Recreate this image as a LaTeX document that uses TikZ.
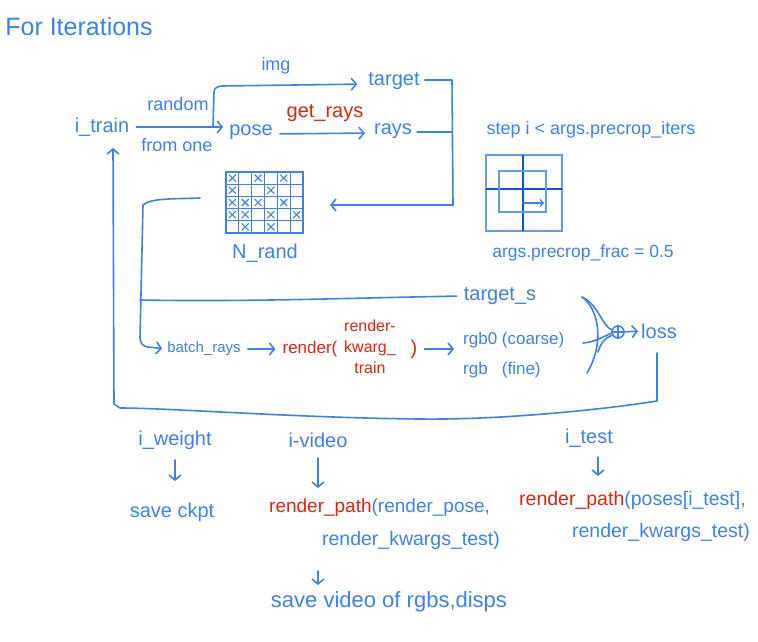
\documentclass[tikz,border=0pt]{standalone}
\usepackage{fontspec}
\setmainfont{Liberation Sans}
\usetikzlibrary{arrows.meta}
\definecolor{hb}{HTML}{3B82EE}
\definecolor{hr}{HTML}{E0240A}
\definecolor{hd}{HTML}{0A52D6}
\tikzset{
 txt/.style={text=hb, font=\fontsize{20}{22}\selectfont, inner sep=1pt},
 rtxt/.style={txt, text=hr},
 ln/.style={draw=hb, line width=1.6pt, line cap=round, line join=round},
 arr/.style={ln, -{Straight Barb[length=5pt,width=12pt]}},
}
\begin{document}
\begin{tikzpicture}[x=1pt,y=-1pt]
\useasboundingbox (0,0) rectangle (758,642);
% texts
\node[txt, font=\fontsize{25}{27}\selectfont] (title) at (79,27) {For Iterations};
\node[txt] (itrain) at (102,127) {i\_train};
\node[txt, font=\fontsize{18}{20}\selectfont] (random) at (178,104) {random};
\node[txt, font=\fontsize{18}{20}\selectfont] (fromone) at (177,145) {from one};
\node[txt] (pose) at (251,132) {pose};
\node[txt, font=\fontsize{18}{20}\selectfont] (img) at (276,66) {img};
\node[txt] (target) at (394,81) {target};
\node[rtxt] (getrays) at (325,113) {get\_rays};
\node[txt] (rays) at (393,131) {rays};
\node[txt] (nrand) at (265,253) {N\_rand};
\node[txt, font=\fontsize{18}{20}\selectfont] (step) at (591,130) {step i < args.precrop\_iters};
\node[txt, font=\fontsize{17.5}{19}\selectfont] (frac) at (583,253) {args.precrop\_frac = 0.5};
\node[txt] (targets) at (500,296) {target\_s};
\node[txt, font=\fontsize{15}{17}\selectfont] (batch) at (204,349) {batch\_rays};
\node[rtxt, font=\fontsize{17}{19}\selectfont] (rendA) at (310,349) {render(};
\node[rtxt, align=center, font=\fontsize{16}{21}\selectfont] (rendB) at (370,347) {render-\\kwarg\_\\train};
\node[rtxt] (rendC) at (414,349) {)};
\node[txt, font=\fontsize{17}{19}\selectfont, anchor=west] (rgb0) at (462,340) {rgb0 (coarse)};
\node[txt, font=\fontsize{17}{19}\selectfont, anchor=west] (rgb) at (462,370) {rgb~~ (fine)};
\node[txt] (loss) at (659,331) {loss};
\node[txt] (iweight) at (175,440) {i\_weight};
\node[txt] (saveckpt) at (172,512) {save ckpt};
\node[txt] (ivideo) at (318,440) {i-video};
\node[txt, anchor=west, font=\fontsize{19}{21}\selectfont] (rp1) at (268,508) {\textcolor{hr}{render\_path}(render\_pose,};
\node[txt, font=\fontsize{19.5}{21}\selectfont] (kw1) at (411,540) {render\_kwargs\_test)};
\node[txt, font=\fontsize{22}{24}\selectfont] (savevid) at (389,602) {save video of rgbs,disps};
\node[txt] (itest) at (589,438) {i\_test};
\node[txt, anchor=west, font=\fontsize{19.5}{21}\selectfont] (rp2) at (518,500) {\textcolor{hr}{render\_path}(poses[i\_test],};
\node[txt, font=\fontsize{19.5}{21}\selectfont] (kw2) at (661,532) {render\_kwargs\_test)};
% coordinates
\coordinate (br) at (213,127);
\coordinate (gridE) at (330,205);
\coordinate (gridW) at (200,198);
\coordinate (brk) at (452,80);
\coordinate (lossdn) at (657,353);
% top connectors
\draw[arr, shorten <=6pt, shorten >=5pt] (itrain.east) -- (pose.west |- itrain.east);
\draw[arr, shorten >=10pt] (br) -- (214,92) to[out=90,in=180] (222,86) -- (target.west |- 0,84);
\draw[arr, shorten <=6pt, shorten >=8pt] (pose.east |- 0,134) -- (rays.west |- 0,133);
\draw[ln, shorten <=4pt] (target.east |- brk) -- (brk) -- (453,205);
\draw[ln, shorten <=4pt] (rays.east |- 0,132) -- (452,132);
\draw[arr] (453,205) -- (gridE);
% grid
\begin{scope}[draw=hb, line width=1.3pt]
\draw (226,172) rectangle (303,233);
\foreach \i in {1,...,5} \draw (226+\i*12.83,172) -- (226+\i*12.83,233);
\foreach \j in {1,...,4} \draw (226,172+\j*12.2) -- (303,172+\j*12.2);
\foreach \c/\r in {1/1,3/1,5/1,1/2,4/2,1/3,2/3,3/3,5/3,1/4,2/4,4/4,6/4,2/5,4/5}
  \draw[line width=1.1pt] ({226+(\c-0.5)*12.83-3.5},{172+(\r-0.5)*12.2-3.5}) -- ++(7,7)
       ({226+(\c-0.5)*12.83+3.5},{172+(\r-0.5)*12.2-3.5}) -- ++(-7,7);
\end{scope}
% precrop box
\draw[draw=hb!80, line width=1.8pt] (486,155) rectangle (562,231);
\draw[draw=hd, line width=2.2pt] (523,155) -- (523,231) (486,189) -- (562,189);
\draw[draw=hb!80, line width=1.4pt] (499,171) rectangle (546,212);
\draw[arr, line width=1.4pt, -{Straight Barb[length=3pt,width=7pt]}] (523,203) -- (544,203);
% middle left path
\draw[ln] (gridW) .. controls (175,199) and (150,198) .. (143,205) -- (140,338) to[out=-90,in=180] (148,347);
\draw[arr, shorten >=4pt] (148,347) -- (batch.west);
\draw[ln, shorten >=6pt] (140,300) .. controls (250,302) and (350,298) .. (targets.west);
\draw[arr, shorten <=6pt, shorten >=6pt] (batch.east) -- (rendA.west);
\draw[arr, shorten <=6pt, shorten >=8pt] (rendC.east) -- (rgb0.west |- rendC);
% combiner
\coordinate (plus) at (618,332);
\draw[ln] (582,297) .. controls (600,310) and (604,345) .. (587,373);
\draw[ln] (582,297) .. controls (598,304) and (602,326) .. (612,330);
\draw[ln] (583,343) .. controls (596,342) and (604,336) .. (612,333);
\draw[ln] (598,352) .. controls (601,342) and (606,337) .. (613,335);
\draw[ln] (plus) circle (6);
\draw[ln, line width=1.3pt] (612,332) -- (624,332) (618,326) -- (618,338);
\draw[arr, shorten >=2pt] (624,332) -- (loss.west);
% feedback loop
\draw[arr] (lossdn) -- (657,401) .. controls (600,410) and (500,420) .. (420,419)
   .. controls (300,418) and (170,408) .. (120,408) -- (114,404) -- (113,148);
% bottom arrows
\draw[arr] (175,460) -- (175,481);
\draw[arr] (318,458) -- (318,488);
\draw[arr] (318,571) -- (318,585);
\draw[arr] (598,457) -- (598,476);
\end{tikzpicture}
\end{document}
